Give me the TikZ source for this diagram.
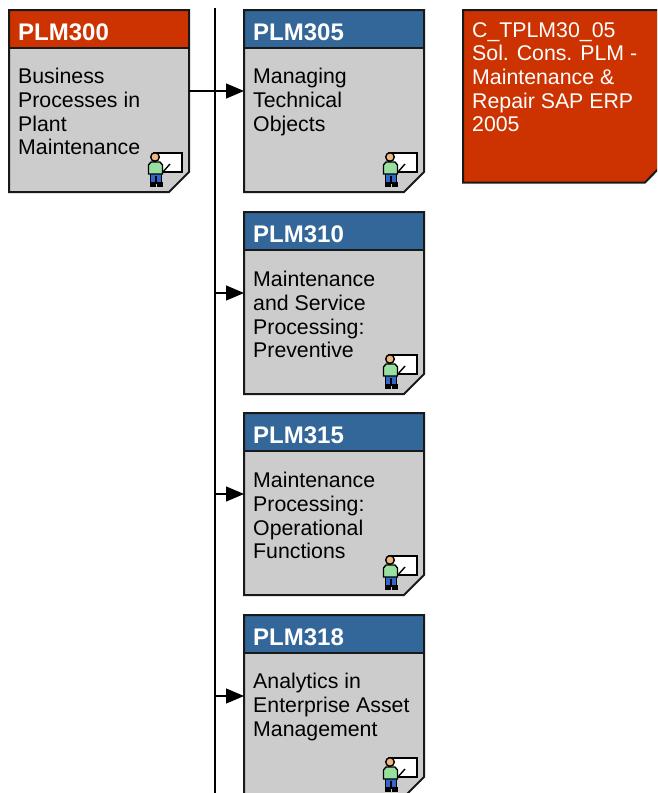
\documentclass[tikz,border=0pt]{standalone}
\usepackage{fontspec}
\setmainfont{Liberation Sans}
\usetikzlibrary{arrows.meta,calc}
\definecolor{sapred}{HTML}{CC3300}
\definecolor{sapblue}{HTML}{336699}
\definecolor{boxgrey}{HTML}{CCCCCC}
\definecolor{skin}{HTML}{F0B880}
\definecolor{shirt}{HTML}{99E0A0}
\definecolor{jeans}{HTML}{3366CC}
\tikzset{
  x=1pt,y=-1pt,
  outline/.style={draw=black!90,line width=2pt,line join=miter},
  anchorbox/.style={inner sep=0pt,outer sep=0pt,minimum width=180pt,minimum height=182pt},
  headtext/.style={anchor=west,inner sep=0pt,text=white,font=\fontsize{24}{26}\selectfont\bfseries},
  bodytext/.style={anchor=north west,inner sep=0pt,align=left,font=\fontsize{21.3}{23.75}\selectfont},
  flow/.style={line width=1.2pt,-{Triangle[length=18pt,width=15pt]}},
  spine/.style={line width=1.2pt},
  iconline/.style={draw=black,line width=1.4pt},
}
% \coursebox[text offset]{name}{left}{top}{code}{colour}{text}
\newcommand{\coursebox}[7][58]{%
  \node[anchorbox] (#2) at (#3+90,#4+91) {};
  \fill[boxgrey] (#3,#4) -- (#3+180,#4) -- (#3+180,#4+162) -- (#3+160,#4+182) -- (#3,#4+182) -- cycle;
  \fill[#6] (#3,#4) rectangle (#3+180,#4+38);
  \draw[outline] (#3,#4) -- (#3+180,#4) -- (#3+180,#4+162) -- (#3+160,#4+182) -- (#3,#4+182) -- cycle;
  \draw[outline] (#3,#4+38) -- (#3+180,#4+38);
  \node[headtext] (#2head) at (#3+9,#4+22) {#5};
  \node[bodytext] (#2text) at (#3+9,#4+#1) {#7};
  \coordinate (#2in) at (#3,#4+81);
  \coordinate (#2out) at (#3+180,#4+81);
  % presenter icon
  \begin{scope}[shift={(#3,#4)}]
    \draw[iconline,fill=white] (145,143) rectangle (173,162);
    \draw[iconline] (153,163) -- (161,154);
    \fill[black] (140.5,172) rectangle (146.5,176.5);
    \fill[black] (147.5,172) rectangle (153.5,176.5);
    \draw[iconline,fill=jeans] (141.5,163) -- (152.5,163) -- (152.5,173) -- (147.7,173) -- (147.7,167) -- (146.3,167) -- (146.3,173) -- (141.5,173) -- cycle;
    \draw[iconline,fill=shirt] (139.5,164) -- (139.5,155) -- (142,152) -- (151,152) -- (153.5,155) -- (153.5,164) -- cycle;
    \draw[iconline,fill=skin] (146,147) circle (4.3);
  \end{scope}
}
\begin{document}
\begin{tikzpicture}
\useasboundingbox (0,0) rectangle (657,793);
\clip (0,0) rectangle (657,793);
\fill[white] (0,0) rectangle (657,793);
\coordinate (spinetop) at (215,8);
\coordinate (spinebot) at (215,793);
\draw[spine] (spinetop) -- (spinebot);
\coursebox{plma}{9}{10}{PLM300}{sapred}{Business\\Processes in\\Plant\\Maintenance}
\coursebox{plmb}{244}{10}{PLM305}{sapblue}{Managing\\Technical\\Objects}
\coursebox[59]{plmc}{244}{212}{PLM310}{sapblue}{Maintenance\\and Service\\Processing:\\Preventive}
\coursebox[59]{plmd}{244}{413}{PLM315}{sapblue}{Maintenance\\Processing:\\Operational\\Functions}
\coursebox{plme}{244}{615}{PLM318}{sapblue}{Analytics in\\Enterprise Asset\\Management}
\draw[flow] (plmaout) -- (plmbin);
\draw[flow] (plmcin -| spinetop) -- (plmcin);
\draw[flow] (plmdin -| spinetop) -- (plmdin);
\draw[flow] (plmein -| spinetop) -- (plmein);
\path[fill=sapred,draw=black!90,line width=2pt] (463,10) -- (670,10) -- (670,157) -- (645,182.5) -- (463,182.5) -- cycle;
\node[inner sep=0pt,anchor=north west,align=left,text=white,font=\fontsize{21.3}{23.7}\selectfont] (cert) at (472,22) {C\_TPLM30\_05\\Sol. Cons. PLM -\\Maintenance \&\\Repair SAP ERP\\2005};
\end{tikzpicture}
\end{document}
